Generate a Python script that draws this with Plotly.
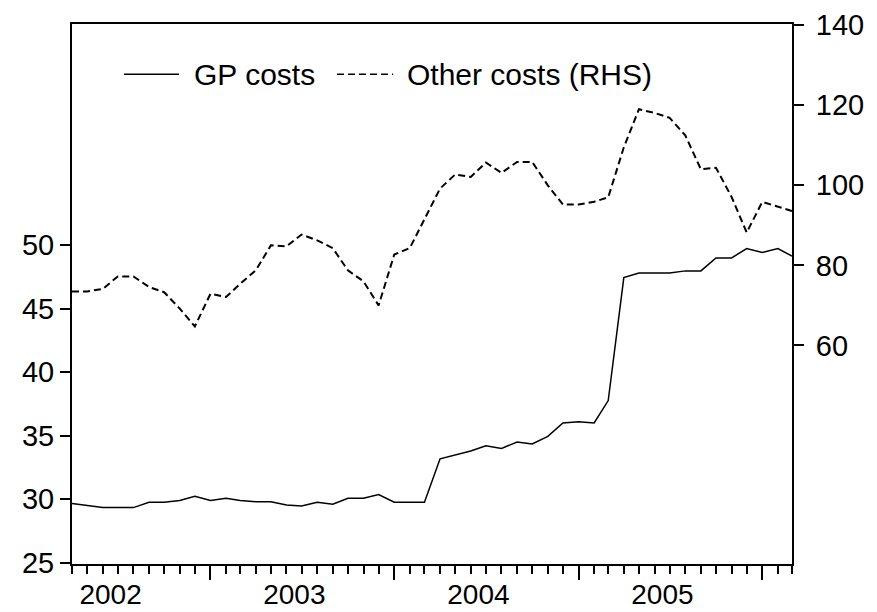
import pandas as pd
import plotly.graph_objects as go

# Monthly observations, April 2002 - March 2006
dates = pd.date_range("2002-04-01", periods=48, freq="MS")

gp_costs = [
    29.66, 29.50, 29.34, 29.34, 29.34, 29.76, 29.76, 29.90, 30.23,
    29.90, 30.07, 29.90, 29.80, 29.80, 29.55, 29.47, 29.76, 29.60,
    30.07, 30.07, 30.37, 29.76, 29.76, 29.76, 33.18, 33.50, 33.80,
    34.20, 34.00, 34.50, 34.35, 34.95, 36.00, 36.10, 36.00, 37.76,
    47.44, 47.80, 47.80, 47.80, 47.97, 47.97, 48.99, 48.99, 49.73,
    49.41, 49.73, 49.13,
]

other_costs = [
    73.5, 73.5, 74.1, 77.25, 77.25, 74.6, 73.3, 69.2, 64.75,
    72.9, 72.1, 75.4, 78.75, 85.0, 84.75, 87.7, 86.25, 84.3,
    78.75, 76.0, 70.0, 82.7, 84.35, 91.5, 99.2, 102.7, 102.1,
    105.7, 103.1, 105.85, 105.85, 100.0, 95.2, 95.2, 95.9, 97.0,
    109.5, 119.0, 118.1, 116.85, 112.5, 104.0, 104.4, 97.1, 88.2,
    95.85, 94.6, 93.6,
]

left_ticks = [25, 30, 35, 40, 45, 50]
right_ticks = [60, 80, 100, 120, 140]
legend_labels = ["GP costs", "Other costs (RHS)"]

FONT = "Arial, Liberation Sans, sans-serif"
DASH = "7px,4px"

fig = go.Figure()
fig.add_trace(go.Scatter(
    x=dates, y=gp_costs, mode="lines", name=legend_labels[0],
    line=dict(color="black", width=1.5), yaxis="y", showlegend=False,
))
fig.add_trace(go.Scatter(
    x=dates, y=other_costs, mode="lines", name=legend_labels[1],
    line=dict(color="black", width=2, dash=DASH), yaxis="y2",
    showlegend=False,
))

# Legend drawn as line samples + text
ly = 0.907
fig.add_shape(type="line", xref="paper", yref="paper", x0=0.0722, x1=0.1486,
              y0=ly, y1=ly, line=dict(color="black", width=1.5))
fig.add_shape(type="line", xref="paper", yref="paper", x0=0.368, x1=0.446,
              y0=ly, y1=ly, line=dict(color="black", width=1.5, dash=DASH))
fig.add_annotation(xref="paper", yref="paper", x=0.166, y=ly, text=legend_labels[0],
                   showarrow=False, xanchor="left", yanchor="middle",
                   font=dict(family=FONT, size=30, color="black"))
fig.add_annotation(xref="paper", yref="paper", x=0.463, y=ly, text=legend_labels[1],
                   showarrow=False, xanchor="left", yanchor="middle",
                   font=dict(family=FONT, size=30, color="black"))

# page body adds an offset of about (8, 10) px, so the figure is sized to fit
fig.update_layout(
    width=869, height=602,
    margin=dict(l=64, r=85, t=16, b=46),
    paper_bgcolor="white", plot_bgcolor="white",
    font=dict(family=FONT, size=29, color="black"),
    xaxis=dict(
        type="date", automargin=False,
        range=[dates[0], dates[-1]],
        tick0="2002-01-01", dtick="M12", tickformat="%Y",
        ticklabelmode="period", ticklabelshift=-8, ticklabelstandoff=-10,
        ticks="outside", ticklen=14, tickwidth=1.5, tickcolor="black",
        minor=dict(dtick="M1", ticks="outside", ticklen=8, tickwidth=1.5,
                   tickcolor="black", showgrid=False),
        showline=True, linewidth=2, linecolor="black", mirror=True,
        showgrid=False, zeroline=False,
        tickfont=dict(family=FONT, size=28),
    ),
    yaxis=dict(
        automargin=False,
        range=[24.9, 67.4], tickvals=left_ticks,
        ticks="outside", ticklen=10, tickwidth=1.5, tickcolor="black",
        showline=True, linewidth=2, linecolor="black",
        showgrid=False, zeroline=False,
        tickfont=dict(family=FONT, size=29),
    ),
    yaxis2=dict(
        automargin=False,
        overlaying="y", side="right",
        range=[5.4, 140.3], tickvals=right_ticks,
        ticks="outside", ticklen=10, tickwidth=1.5, tickcolor="black",
        ticklabelstandoff=6,
        showline=True, linewidth=2, linecolor="black",
        showgrid=False, zeroline=False,
        tickfont=dict(family=FONT, size=29),
    ),
)

fig.write_html("out.html")
